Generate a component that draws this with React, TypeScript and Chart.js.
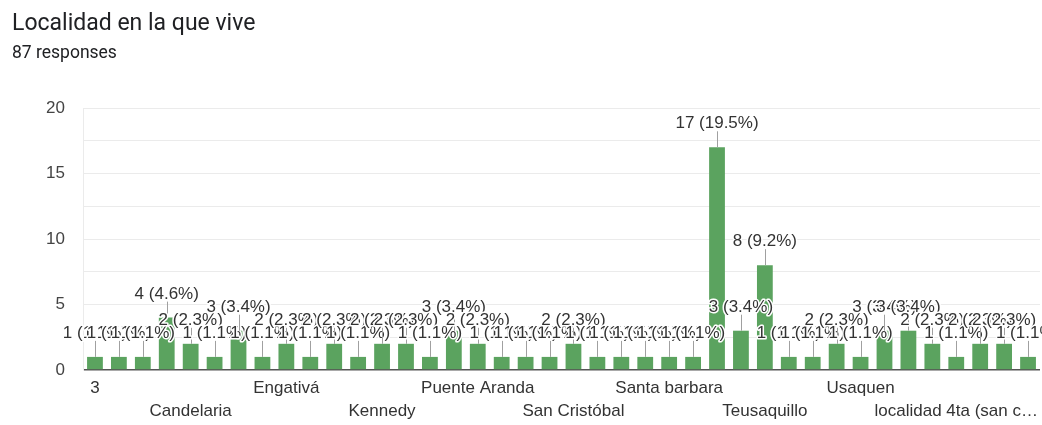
import React, { useEffect, useRef } from "react";
import { Chart, registerables } from "chart.js";

Chart.register(...registerables);

// Localities, in the order the form summary lists them
const categories: string[] = [
  "3", "Antonio Nariño", "Barrios Unidos", "Bosa",
  "Candelaria", "Chapinero", "Ciudad Bolívar", "Engativa",
  "Engativá", "Fontibon", "Fontibón", "Funza",
  "Kennedy", "La Candelaria", "Los Mártires", "Mártires",
  "Puente Aranda", "Rafael Uribe", "Rafael Uribe Uribe", "Ricaurte",
  "San Cristóbal", "San Vicente", "Santa Fe", "Santa Isabel",
  "Santa barbara", "Santa fe", "Suba", "Suba, Bogotá",
  "Teusaquillo", "Tintal", "Tunal", "Tunjuelito",
  "Usaquen", "Usaquén", "Usme", "bosa",
  "localidad 4ta (san cristóbal)", "san cristobal", "suba", "usme",
];

// Number of responses per locality
const counts: number[] = [
  1, 1, 1, 4, 2, 1, 3, 1, 2, 1,
  2, 1, 2, 2, 1, 3, 2, 1, 1, 1,
  2, 1, 1, 1, 1, 1, 17, 3, 8, 1,
  1, 2, 1, 3, 3, 2, 1, 2, 2, 1,
];

const yTicks: number[] = [0, 5, 10, 15, 20];

const title = "Localidad en la que vive";
const totalResponses = counts.reduce((a, b) => a + b, 0);
const subtitle = `${totalResponses} responses`;

const BAR_COLOR = "#5ba35f";
const CHART_FONT = "'Liberation Sans', Arial, sans-serif";
const TITLE_FONT = "23px Roboto, sans-serif";
const SUBTITLE_FONT = "17.5px Roboto, sans-serif";

function shorten(label: string): string {
  return label.length > 20 ? label.slice(0, 20) + "…" : label;
}

// Heading text above the plot
const headingPlugin = {
  id: "heading",
  afterDraw(chart: Chart) {
    const ctx = chart.ctx;
    ctx.save();
    ctx.fillStyle = "#202124";
    ctx.textAlign = "left";
    ctx.textBaseline = "alphabetic";
    ctx.font = TITLE_FONT;
    ctx.fillText(title, 12, 30);
    ctx.font = SUBTITLE_FONT;
    ctx.fillText(subtitle, 12, 57.5);
    ctx.restore();
  },
};

// "n (p%)" annotations with a short stem above each bar
const annotationPlugin = {
  id: "barAnnotations",
  afterDatasetsDraw(chart: Chart) {
    const ctx = chart.ctx;
    const meta = chart.getDatasetMeta(0);
    ctx.save();
    ctx.font = `17px ${CHART_FONT}`;
    ctx.textAlign = "center";
    ctx.textBaseline = "alphabetic";
    ctx.lineJoin = "round";
    meta.data.forEach((el: any, i: number) => {
      const v = counts[i];
      const x = el.x;
      const top = el.y;
      ctx.strokeStyle = "#a0a0a0";
      ctx.lineWidth = 1;
      ctx.beginPath();
      ctx.moveTo(Math.round(x) + 0.5, top);
      ctx.lineTo(Math.round(x) + 0.5, top - 16);
      ctx.stroke();
      const text = `${v} (${((v / totalResponses) * 100).toFixed(1)}%)`;
      ctx.strokeStyle = "#ffffff";
      ctx.lineWidth = 3;
      ctx.strokeText(text, x, top - 19);
      ctx.fillStyle = "#333333";
      ctx.fillText(text, x, top - 19);
    });
    ctx.restore();
  },
};

export default function App() {
  const canvasRef = useRef<HTMLCanvasElement | null>(null);

  useEffect(() => {
    const canvas = canvasRef.current;
    if (!canvas) return;
    const chart = new Chart(canvas, {
      type: "bar",
      data: {
        labels: categories,
        datasets: [
          {
            data: counts,
            backgroundColor: BAR_COLOR,
            borderWidth: 0,
            categoryPercentage: 1,
            barPercentage: 0.66,
          },
        ],
      },
      options: {
        responsive: false,
        animation: false,
        devicePixelRatio: 1,
        layout: { padding: { top: 108, right: 2, left: 0, bottom: 0 } },
        plugins: {
          legend: { display: false },
          tooltip: { enabled: false },
          title: { display: false },
        },
        scales: {
          x: {
            grid: { display: false, drawTicks: false },
            border: { display: false },
            ticks: {
              autoSkip: false,
              maxRotation: 0,
              minRotation: 0,
              padding: 7,
              color: "#333333",
              font: { family: CHART_FONT, size: 17, lineHeight: 1.35 },
              callback: (_v: any, i: number) => {
                const label = shorten(categories[i]);
                if (i % 8 === 0) return label;
                if (i % 8 === 4) return ["", label];
                return "";
              },
            },
            afterFit: (scale: any) => {
              scale.height = 55;
            },
          },
          y: {
            min: yTicks[0],
            max: yTicks[yTicks.length - 1],
            ticks: {
              stepSize: 2.5,
              padding: 18,
              color: "#444444",
              font: { family: CHART_FONT, size: 17 },
              callback: (v: any) => (yTicks.includes(Number(v)) ? String(v) : ""),
            },
            grid: {
              drawTicks: false,
              color: (c: any) => (c.tick && c.tick.value === 0 ? "#555555" : "#ebebeb"),
              lineWidth: (c: any) => (c.tick && c.tick.value === 0 ? 1.6 : 1),
            },
            border: { display: true, color: "#ebebeb" },
            afterFit: (scale: any) => {
              scale.width = 83;
            },
          },
        },
      },
      plugins: [annotationPlugin, headingPlugin],
    });
    // Redraw once the named fonts are ready so canvas text uses them
    let alive = true;
    const fonts = (document as any).fonts;
    if (fonts && fonts.load) {
      Promise.all([
        fonts.load(TITLE_FONT),
        fonts.load(SUBTITLE_FONT),
        fonts.load("17px 'Liberation Sans'"),
      ])
        .then(() => {
          if (alive) chart.update();
        })
        .catch(() => {});
    }
    return () => {
      alive = false;
      chart.destroy();
    };
  }, []);

  return (
    <div style={{ position: "absolute", left: 0, top: 0, width: 1042, height: 425, background: "#fff" }}>
      <canvas ref={canvasRef} width={1042} height={425} />
    </div>
  );
}
